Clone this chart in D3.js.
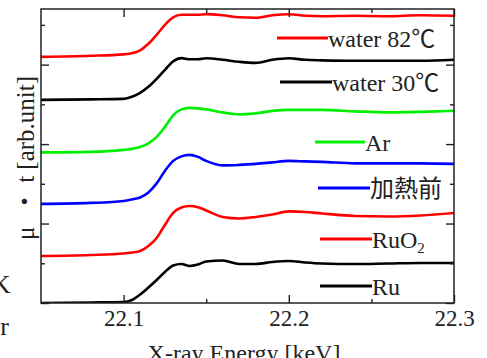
<!DOCTYPE html>
<html>
<head>
<meta charset="utf-8">
<script src="https://cdn.jsdelivr.net/npm/d3@7"></script>
<style>
  html, body { margin: 0; padding: 0; background: #fff; }
  svg { display: block; }
  text { font-family: "Liberation Serif", "Times New Roman", "Noto Sans CJK JP", serif; fill: #222; }
</style>
</head>
<body>
<svg id="chart" width="487" height="358"></svg>
<script>
// ---- data (energy in keV, mu*t in arbitrary units, offset per series) ----
const energies = [22.05, 22.08, 22.10, 22.105, 22.11, 22.115, 22.12, 22.125, 22.13, 22.135, 22.14, 22.145, 22.15,
                  22.16, 22.17, 22.18, 22.19, 22.20, 22.21, 22.22, 22.24, 22.26, 22.28, 22.30];
const water82 = [6.196, 6.222, 6.259, 6.285, 6.360, 6.524, 6.751, 7.003, 7.191, 7.254, 7.254, 7.254, 7.272,
                 7.242, 7.191, 7.179, 7.242, 7.267, 7.229, 7.217, 7.229, 7.217, 7.242, 7.229];
const water30 = [5.113, 5.126, 5.139, 5.189, 5.290, 5.441, 5.642, 5.869, 6.083, 6.164, 6.134, 6.134, 6.159,
                 6.121, 6.071, 6.045, 6.121, 6.159, 6.121, 6.108, 6.096, 6.096, 6.096, 6.121];
const argon   = [3.791, 3.804, 3.854, 3.879, 3.929, 4.018, 4.181, 4.433, 4.723, 4.874, 4.912, 4.899, 4.874,
                 4.798, 4.748, 4.773, 4.836, 4.861, 4.861, 4.861, 4.824, 4.798, 4.811, 4.836];
const beforeHeating = [2.494, 2.519, 2.569, 2.607, 2.657, 2.783, 3.010, 3.325, 3.577, 3.690, 3.728, 3.678, 3.577,
                 3.463, 3.476, 3.501, 3.539, 3.577, 3.564, 3.552, 3.514, 3.514, 3.514, 3.501];
const ruo2    = [1.184, 1.209, 1.247, 1.272, 1.310, 1.436, 1.637, 1.965, 2.267, 2.406, 2.443, 2.411, 2.330,
                 2.166, 2.128, 2.166, 2.229, 2.305, 2.292, 2.254, 2.191, 2.179, 2.204, 2.267];
const ru      = [0.000, 0.013, 0.025, 0.076, 0.214, 0.390, 0.579, 0.781, 0.945, 0.982, 0.932, 0.970, 1.045,
                 1.071, 0.982, 0.982, 1.033, 1.058, 1.020, 0.995, 0.982, 0.995, 1.008, 1.008];

const seriesNames  = ["water 82℃", "water 30℃", "Ar", "加熱前", "RuO2", "Ru"];
const seriesValues = [water82, water30, argon, beforeHeating, ruo2, ru];
const seriesColors = ["#ff0000", "#000000", "#00ee00", "#0000ff", "#ff0000", "#000000"];

const xMajorTicks = [22.1, 22.2, 22.3];
const xTickLabels = ["22.1", "22.2", "22.3"];
const xMinorTicks = [22.15, 22.25];
const yMajorTicks = [0, 2, 4, 6];
const yMinorTicks = [1, 3, 5, 7];

// ---- layout ----
const FONT = "'Liberation Serif', 'Times New Roman', 'Noto Sans CJK JP', serif";
const plot = { left: 41, right: 454, top: 9, bottom: 303 };
const legendLayout = [
  { x1: 277, x2: 328, y: 38 },
  { x1: 280, x2: 332, y: 82 },
  { x1: 315, x2: 365, y: 142 },
  { x1: 318, x2: 370, y: 188 },
  { x1: 320, x2: 372, y: 239 },
  { x1: 320, x2: 372, y: 286 }
];

const svg = d3.select("#chart");
const x = d3.scaleLinear().domain([22.05, 22.30]).range([plot.left, plot.right]);
const y = d3.scaleLinear().domain([0, 7.4]).range([plot.bottom, plot.top]);

svg.append("defs").append("clipPath").attr("id", "clip")
  .append("rect").attr("x", plot.left).attr("y", plot.top)
  .attr("width", plot.right - plot.left).attr("height", plot.bottom - plot.top);

// curves
const line = d3.line().x(d => x(d[0])).y(d => y(d[1])).curve(d3.curveMonotoneX);
const curves = svg.append("g").attr("clip-path", "url(#clip)");
seriesValues.forEach((vals, i) => {
  curves.append("path")
    .datum(energies.map((e, k) => [e, vals[k]]))
    .attr("fill", "none")
    .attr("stroke", seriesColors[i])
    .attr("stroke-width", 2.6)
    .attr("stroke-linejoin", "round")
    .attr("d", line);
});

// axes
function styleAxis(g) {
  g.select(".domain").remove();
  g.selectAll(".tick line").attr("stroke", "#222").attr("stroke-width", 1.4);
}
svg.append("g").attr("transform", `translate(0,${plot.bottom})`)
  .call(d3.axisBottom(x).tickValues(xMajorTicks).tickSize(-8).tickPadding(12)
        .tickFormat((d, i) => xTickLabels[i]))
  .call(styleAxis)
  .call(g => g.selectAll(".tick text").attr("font-size", 23).attr("fill", "#222")
        .style("font-family", FONT).attr("dy", 0).attr("y", 23));
svg.append("g").attr("transform", `translate(0,${plot.bottom})`)
  .call(d3.axisBottom(x).tickValues(xMinorTicks).tickSize(-4).tickFormat(""))
  .call(styleAxis);
svg.append("g").attr("transform", `translate(0,${plot.top})`)
  .call(d3.axisTop(x).tickValues(xMajorTicks).tickSize(-8).tickFormat(""))
  .call(styleAxis);
svg.append("g").attr("transform", `translate(0,${plot.top})`)
  .call(d3.axisTop(x).tickValues(xMinorTicks).tickSize(-4).tickFormat(""))
  .call(styleAxis);
svg.append("g").attr("transform", `translate(${plot.left},0)`)
  .call(d3.axisLeft(y).tickValues(yMajorTicks).tickSize(-8).tickFormat(""))
  .call(styleAxis);
svg.append("g").attr("transform", `translate(${plot.left},0)`)
  .call(d3.axisLeft(y).tickValues(yMinorTicks).tickSize(-4).tickFormat(""))
  .call(styleAxis);
svg.append("g").attr("transform", `translate(${plot.right},0)`)
  .call(d3.axisRight(y).tickValues(yMajorTicks).tickSize(-8).tickFormat(""))
  .call(styleAxis);
svg.append("g").attr("transform", `translate(${plot.right},0)`)
  .call(d3.axisRight(y).tickValues(yMinorTicks).tickSize(-4).tickFormat(""))
  .call(styleAxis);

// frame
svg.append("rect")
  .attr("x", plot.left).attr("y", plot.top)
  .attr("width", plot.right - plot.left).attr("height", plot.bottom - plot.top)
  .attr("fill", "none").attr("stroke", "#222").attr("stroke-width", 1.5);

// axis titles
svg.append("text").attr("x", 244).attr("y", 361).attr("text-anchor", "middle")
  .attr("font-size", 24).style("font-family", FONT).text("X-ray Energy [keV]");
svg.append("text").attr("transform", "translate(34,240) rotate(-90)")
  .attr("text-anchor", "start").attr("font-size", 25).style("font-family", FONT)
  .text("μ\u00a0\u00a0・\u00a0t [arb.unit]");

// legend
seriesNames.forEach((name, i) => {
  const L = legendLayout[i];
  svg.append("line").attr("x1", L.x1).attr("x2", L.x2).attr("y1", L.y).attr("y2", L.y)
    .attr("stroke", seriesColors[i]).attr("stroke-width", 3);
  const t = svg.append("text").attr("x", L.x2).attr("y", L.y + 8.5)
    .attr("font-size", 24).style("font-family", FONT);
  if (name === "RuO2") {
    t.append("tspan").text("RuO");
    t.append("tspan").attr("font-size", 15).attr("dy", 5).text("2");
  } else {
    t.text(name);
  }
});

// fragments of neighbouring text cut by the picture edge
svg.append("text").attr("x", 10.5).attr("y", 293).attr("text-anchor", "end")
  .attr("font-size", 26).style("font-family", FONT).text("K");
svg.append("text").attr("x", 9).attr("y", 335).attr("text-anchor", "end")
  .attr("font-size", 26).style("font-family", FONT).text("r");
</script>
</body>
</html>
